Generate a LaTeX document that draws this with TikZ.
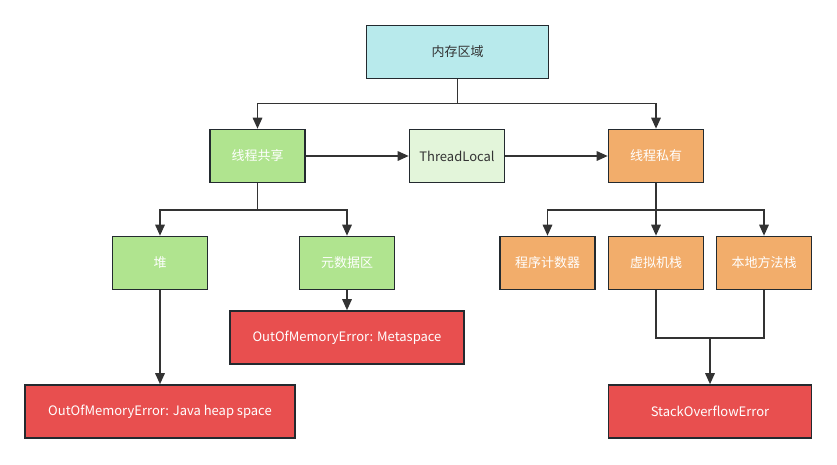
\documentclass[tikz,border=0pt]{standalone}
\usepackage{fontspec}
\setmainfont{Noto Sans CJK SC}
\usepackage{xcolor}
\usetikzlibrary{
    arrows.meta,
    calc,
    positioning
}
\definecolor{boxline}{HTML}{232A2F}
\definecolor{linecol}{HTML}{333333}
\definecolor{textdark}{HTML}{333333}
\definecolor{memfill}{HTML}{B8EAEC}
\definecolor{sharefill}{HTML}{B0E48F}
\definecolor{tlfill}{HTML}{E3F5DA}
\definecolor{privfill}{HTML}{F2AD6B}
\definecolor{errfill}{HTML}{E84F4F}

\begin{document}
\begin{tikzpicture}[x=1pt, y=-1pt,
        box/.style={draw=boxline, line width=1.6pt, minimum width=95pt, minimum height=53pt,
            inner sep=0pt, font=\fontsize{13}{15}\selectfont, text=white},
        link/.style={draw=linecol, line width=1.6pt, -{Triangle[length=11pt, width=9.5pt]}},
        wire/.style={draw=linecol, line width=1.6pt}]
    \useasboundingbox (0,0) rectangle (837,464);

    % top
    \node[box, fill=memfill, text=textdark, minimum width=182pt] (mem) at (457.5, 52) {内存区域};

    % second row
    \node[box, fill=sharefill] (shared) at (257.5, 156) {线程共享};
    \node[box, fill=tlfill, text=textdark] (tl) at (457, 156) {ThreadLocal};
    \node[box, fill=privfill] (private) at (656, 156) {线程私有};

    % third row
    \node[box, fill=sharefill] (heap) at (160, 263) {堆};
    \node[box, fill=sharefill] (meta) at (347, 263) {元数据区};
    \node[box, fill=privfill] (pc) at (547.5, 263) {程序计数器};
    \node[box, fill=privfill] (vmstack) at (656, 263) {虚拟机栈};
    \node[box, fill=privfill] (native) at (764, 263) {本地方法栈};

    % errors
    \node[box, fill=errfill, minimum width=234pt] (metaerr) at (347, 337.5) {OutOfMemoryError: Metaspace};
    \node[box, fill=errfill, minimum width=270pt] (heaperr) at (160, 411.5) {OutOfMemoryError: Java heap space};
    \node[box, fill=errfill, minimum width=203pt] (soerr) at (710, 411.5) {StackOverflowError};

    % connectors
    \coordinate (split1) at ($(mem.south) + (0, 24)$);
    \draw[link] (mem.south) -- (split1) -| (shared.north);
    \draw[link] (split1) -| (private.north);
    \draw[link] (shared.east) -- (tl.west);
    \draw[link] (tl.east) -- (private.west);

    \coordinate (split2) at ($(shared.south) + (0, 26.5)$);
    \draw[link] (shared.south) -- (split2) -| (heap.north);
    \draw[link] (split2) -| (meta.north);
    \draw[link] (meta.south) -- (metaerr.north);
    \draw[link] (heap.south) -- (heaperr.north);

    \coordinate (split3) at ($(private.south) + (0, 26.5)$);
    \draw[link] (private.south) -- (vmstack.north);
    \draw[link] (split3) -| (pc.north);
    \draw[link] (split3) -| (native.north);

    \coordinate (merge) at ($(vmstack.south) + (0, 47.5)$);
    \draw[wire] (vmstack.south) -- (merge) -| (native.south);
    \draw[link] (soerr.north |- merge) -- (soerr.north);
\end{tikzpicture}
\end{document}
